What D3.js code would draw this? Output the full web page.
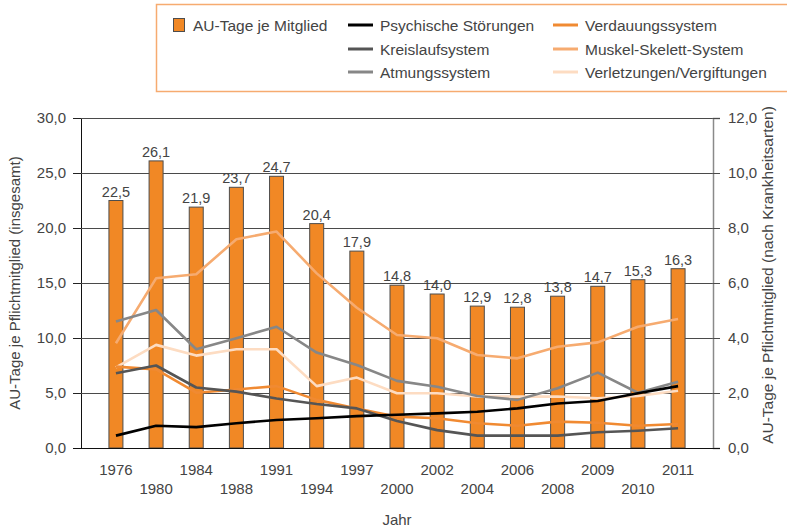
<!DOCTYPE html>
<html>
<head>
<meta charset="utf-8">
<script src="https://cdn.jsdelivr.net/npm/d3@7"></script>
<style>
  body { margin: 0; background: #fff; }
  text { font-family: "Liberation Sans", Arial, sans-serif; fill: #444; }
</style>
</head>
<body>
<div class="data"></div>
<script>
const years = ["1976", "1980", "1984", "1988", "1991", "1994", "1997", "2000", "2002", "2004", "2006", "2008", "2009", "2010", "2011"]
const auTage = [22.5, 26.1, 21.9, 23.7, 24.7, 20.4, 17.9, 14.8, 14.0, 12.9, 12.8, 13.8, 14.7, 15.3, 16.3]

const psychische = [0.45, 0.81, 0.76, 0.9, 1.02, 1.08, 1.16, 1.21, 1.26, 1.32, 1.44, 1.62, 1.71, 1.99, 2.25]
const kreislauf = [2.72, 3.0, 2.2, 2.05, 1.8, 1.6, 1.44, 0.98, 0.65, 0.45, 0.45, 0.45, 0.57, 0.63, 0.72]
const atmung = [4.6, 5.02, 3.59, 3.99, 4.41, 3.47, 3.02, 2.44, 2.23, 1.89, 1.75, 2.17, 2.74, 2.01, 2.41]
const verdauung = [2.96, 2.86, 2.01, 2.13, 2.25, 1.75, 1.44, 1.14, 1.08, 0.9, 0.81, 0.96, 0.92, 0.81, 0.87]
const muskel = [3.81, 6.17, 6.32, 7.59, 7.87, 6.35, 5.1, 4.11, 3.99, 3.38, 3.26, 3.68, 3.84, 4.41, 4.69]
const verletzungen = [2.93, 3.75, 3.36, 3.59, 3.59, 2.25, 2.56, 1.99, 1.99, 1.87, 1.87, 1.87, 1.81, 1.89, 2.08]

const leftTicks = [0, 5, 10, 15, 20, 25, 30]
const rightTicks = [0, 2, 4, 6, 8, 10, 12]

const series = [
  {name: "Verletzungen/Vergiftungen", values: verletzungen, color: "#fddcc2"},
  {name: "Muskel-Skelett-System", values: muskel, color: "#f6ab70"},
  {name: "Verdauungssystem", values: verdauung, color: "#f08a32"},
  {name: "Atmungssystem", values: atmung, color: "#878787"},
  {name: "Kreislaufsystem", values: kreislauf, color: "#555555"},
  {name: "Psychische Störungen", values: psychische, color: "#000000"},
]

const width = 787
const height = 531
const plot = {left: 81, right: 713, top: 118, bottom: 448}
const fmt = v => d3.format(".1f")(v).replace(".", ",")

const svg = d3.select(".data")
  .append("svg")
  .attr("width", width)
  .attr("height", height)

const x = d3.scalePoint()
  .domain(years)
  .range([plot.left, plot.right])
  .padding(0.87)

const yLeft = d3.scaleLinear()
  .domain([0, 30])
  .range([plot.bottom, plot.top])

const yRight = d3.scaleLinear()
  .domain([0, 12])
  .range([plot.bottom, plot.top])

// grid + left axis
const leftAxis = svg.append("g")
  .attr("transform", `translate(${plot.left},0)`)
  .call(d3.axisLeft(yLeft).tickValues(leftTicks).tickFormat(fmt)
    .tickSize(8).tickPadding(7))
leftAxis.select(".domain").attr("stroke", "#111")
leftAxis.selectAll(".tick line").attr("stroke", "#222")
leftAxis.selectAll(".tick text")
  .attr("font-size", 15)
  .attr("fill", "#444")
  .attr("font-family", "Liberation Sans, Arial, sans-serif")

svg.append("g")
  .selectAll("line")
  .data(leftTicks.slice(1))
  .join("line")
  .attr("x1", plot.left)
  .attr("x2", plot.right)
  .attr("y1", d => yLeft(d) + 0.5)
  .attr("y2", d => yLeft(d) + 0.5)
  .attr("stroke", "#4a4a4a")
  .attr("stroke-width", 1)

const rightAxis = svg.append("g")
  .attr("transform", `translate(${plot.right},0)`)
  .call(d3.axisRight(yRight).tickValues(rightTicks).tickFormat(fmt)
    .tickSize(7).tickPadding(8))
rightAxis.select(".domain").attr("stroke", "#8a8a8a").attr("stroke-width", 1.5)
rightAxis.selectAll(".tick line").attr("stroke", "#4a4a4a")
rightAxis.selectAll(".tick text")
  .attr("font-size", 15)
  .attr("fill", "#444")
  .attr("font-family", "Liberation Sans, Arial, sans-serif")

// bars
const barW = 14
svg.append("g")
  .selectAll("rect")
  .data(auTage)
  .join("rect")
  .attr("x", (d, i) => x(years[i]) - barW / 2)
  .attr("y", d => yLeft(d))
  .attr("width", barW)
  .attr("height", d => plot.bottom - yLeft(d))
  .attr("fill", "#f18825")
  .attr("stroke", "#4d4d4d")
  .attr("stroke-width", 1)

svg.append("g")
  .selectAll("text")
  .data(auTage)
  .join("text")
  .attr("x", (d, i) => x(years[i]))
  .attr("y", d => yLeft(d) - 4)
  .attr("text-anchor", "middle")
  .attr("font-size", 14.5)
  .text(d => fmt(d))

// bottom axis line
svg.append("line")
  .attr("x1", plot.left - 8)
  .attr("x2", plot.right + 7)
  .attr("y1", plot.bottom + 0.5)
  .attr("y2", plot.bottom + 0.5)
  .attr("stroke", "#111")

// lines
const lineGen = (vals) => d3.line()
  .x((d, i) => x(years[i]))
  .y(d => yRight(d))(vals)

svg.append("g")
  .selectAll("path")
  .data(series)
  .join("path")
  .attr("d", s => lineGen(s.values))
  .attr("fill", "none")
  .attr("stroke", s => s.color)
  .attr("stroke-width", 2.6)
  .attr("stroke-linejoin", "round")

// year labels, staggered
svg.append("g")
  .selectAll("text")
  .data(years)
  .join("text")
  .attr("x", d => x(d))
  .attr("y", (d, i) => i % 2 === 0 ? 475 : 494)
  .attr("text-anchor", "middle")
  .attr("font-size", 15)
  .text(d => d)

svg.append("text")
  .attr("x", (plot.left + plot.right) / 2)
  .attr("y", 525)
  .attr("text-anchor", "middle")
  .attr("font-size", 15)
  .text("Jahr")

svg.append("text")
  .attr("transform", `translate(20,283) rotate(-90)`)
  .attr("text-anchor", "middle")
  .attr("font-size", 15)
  .text("AU-Tage je Pflichtmitglied (insgesamt)")

svg.append("text")
  .attr("transform", `translate(773,275) rotate(-90)`)
  .attr("text-anchor", "middle")
  .attr("font-size", 15.5)
  .text("AU-Tage je Pflichtmitglied (nach Krankheitsarten)")

// legend
const legend = svg.append("g")
legend.append("rect")
  .attr("x", 156.5)
  .attr("y", 4.5)
  .attr("width", 640)
  .attr("height", 87)
  .attr("fill", "none")
  .attr("stroke", "#f6ab70")
  .attr("stroke-width", 1.5)

legend.append("rect")
  .attr("x", 173.5)
  .attr("y", 18.5)
  .attr("width", 11)
  .attr("height", 13)
  .attr("fill", "#f18825")
  .attr("stroke", "#4d4d4d")

legend.append("text")
  .attr("x", 193)
  .attr("y", 31)
  .attr("font-size", 15.5)
  .text("AU-Tage je Mitglied")

const legendItems = [
  {s: series[5], col: 0, row: 0},
  {s: series[4], col: 0, row: 1},
  {s: series[3], col: 0, row: 2},
  {s: series[2], col: 1, row: 0},
  {s: series[1], col: 1, row: 1},
  {s: series[0], col: 1, row: 2},
]
const colX = [348, 553]
const rowY = [25, 49, 72]

legendItems.forEach(item => {
  const lx = colX[item.col]
  const ly = rowY[item.row]
  legend.append("line")
    .attr("x1", lx)
    .attr("x2", lx + 25)
    .attr("y1", ly)
    .attr("y2", ly)
    .attr("stroke", item.s.color)
    .attr("stroke-width", 3)
  legend.append("text")
    .attr("x", lx + 32)
    .attr("y", ly + 6)
    .attr("font-size", 15.5)
    .text(item.s.name)
})
</script>
</body>
</html>
